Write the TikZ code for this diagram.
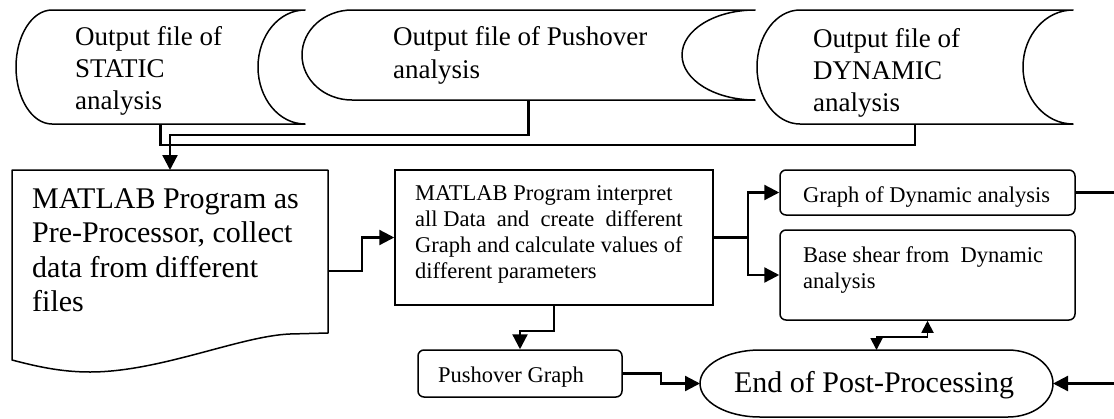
\documentclass[tikz,border=0pt]{standalone}
\usepackage{fontspec}
\setmainfont{Liberation Serif}
\usetikzlibrary{arrows.meta}
\newcommand\mylines[2]{\vtop{\baselineskip=#1\lineskiplimit=-100pt\relax #2}}
\begin{document}
\begin{tikzpicture}[x=1pt,y=-1pt,
  shp/.style={line width=1.5pt, line join=round},
  frm/.style={inner sep=0pt, outer sep=0pt, draw=none},
  conn/.style={line width=2.3pt},
  arr/.style={-{Triangle[length=15pt,width=15pt]}},
  sarr/.style={{Triangle[length=12pt,width=12pt]}-{Triangle[length=12pt,width=12pt]}},
  box/.style={draw, line width=1.5pt, inner sep=0pt},
  rbox/.style={box, rounded corners=6pt},
  txt/.style={inner sep=0pt, anchor=base west},
  big/.style={font=\fontsize{27}{32}\selectfont},
  huge/.style={font=\fontsize{30}{35}\selectfont},
  mid/.style={font=\fontsize{22.5}{26}\selectfont}]
\useasboundingbox (0,0) rectangle (1114,418);

% ---- stored data shapes (top)
\node[frm, minimum width=289pt, minimum height=114pt] (s1) at (160.5,67) {};
\node[frm, minimum width=453pt, minimum height=90pt] (s2) at (528.5,55) {};
\node[frm, minimum width=316pt, minimum height=114pt] (s3) at (915,67) {};
\draw[shp] (52,10) -- (305,10) arc[start angle=90,end angle=270,x radius=47pt,y radius=57pt]
  -- (52,124) arc[start angle=270,end angle=90,x radius=36pt,y radius=57pt] -- cycle;
\draw[shp] (352,10) -- (755,10) arc[start angle=90,end angle=270,x radius=73pt,y radius=45pt]
  -- (352,100) arc[start angle=270,end angle=90,x radius=50pt,y radius=45pt] -- cycle;
\draw[shp] (800,10) -- (1073,10) arc[start angle=90,end angle=270,x radius=50pt,y radius=57pt]
  -- (800,124) arc[start angle=270,end angle=90,x radius=43pt,y radius=57pt] -- cycle;
\node[txt, big] (t1) at (75,45) {\mylines{32pt}{\hbox{Output file of}\hbox{STATIC}\hbox{analysis}}};
\node[txt, big] (t2) at (393,45) {\mylines{33pt}{\hbox{Output file of Pushover}\hbox{analysis}}};
\node[txt, big] (t3) at (813,47) {\mylines{32pt}{\hbox{Output file of}\hbox{DYNAMIC}\hbox{analysis}}};

% ---- document shape
\node[frm, minimum width=316pt, minimum height=202pt] (d1) at (170,271) {};
\draw[shp] (12,170) -- (328,170) -- (328,333) -- (290,334)
  .. controls (240,336) and (160,372) .. (90,372)
  .. controls (60,372) and (35,366) .. (12,360) -- cycle;
\node[txt, huge] (td) at (32,208) {\mylines{34.5pt}{\hbox{MATLAB Program as}\hbox{Pre-Processor, collect}\hbox{data from different}\hbox{files}}};

% ---- process box
\node[box, minimum width=318pt, minimum height=135pt] (b2) at (554,237.5) {};
\node[txt, mid] (tb2) at (415,200) {\setbox0\hbox{Graph and calculate values of}%
  \mylines{26pt}{\hbox{MATLAB Program interpret}\hbox to \wd0{all Data\hfill and\hfill create\hfill different}\copy0\hbox{different parameters}}};

% ---- right boxes
\node[rbox, minimum width=295pt, minimum height=45pt] (b3) at (927.5,192.5) {};
\node[txt, mid] (tb3) at (803,202) {Graph of Dynamic analysis};
\node[rbox, minimum width=295pt, minimum height=90pt] (b4) at (927.5,275) {};
\node[txt, mid] (tb4) at (803,262) {\mylines{26pt}{\hbox{Base shear from\ \ Dynamic}\hbox{analysis}}};

% ---- pushover graph
\node[rbox, minimum width=204pt, minimum height=47pt] (p) at (520,373.5) {};
\node[txt, mid] (tp) at (438,382) {Pushover Graph};

% ---- end terminator
\node[frm, minimum width=353pt, minimum height=67pt] (e) at (876.5,383.5) {};
\draw[shp] (760,350) -- (1008,350) arc[start angle=90,end angle=-90,x radius=45pt,y radius=33.5pt]
  -- (760,417) arc[start angle=270,end angle=90,x radius=60pt,y radius=33.5pt] -- cycle;
\node[inner sep=0pt, anchor=base, font=\fontsize{30}{36}\selectfont] (te) at (874,392) {End of Post-Processing};

% ---- connectors
\draw[conn] (s1.south) -- ++(0,21) -| (s3.south);
\draw[conn, arr] (s2.south) |- ([yshift=35pt]d1.north) -- (d1.north);
\draw[conn, arr] (d1.east) -- ++(34,0) |- (b2.west);
\draw[conn, arr] (b2.east) -- ++(34,0) |- (b3.west);
\draw[conn, arr] (b2.east) -- ++(34,0) |- (b4.west);
\draw[conn, arr] (b2.south) -- ++(0,25) -| (p.north);
\draw[conn, arr] (p.east) -- ++(38,0) |- (e.west);
\draw[line width=1.8pt, sarr] (e.north) -- ++(0,-13) -| (b4.south);
\coordinate (r1) at (1114,192.5);
\coordinate (r2) at (1114,383.5);
\draw[conn] (b3.east) -- (r1);
\draw[conn, arr] (r2) -- (e.east);
\end{tikzpicture}
\end{document}
